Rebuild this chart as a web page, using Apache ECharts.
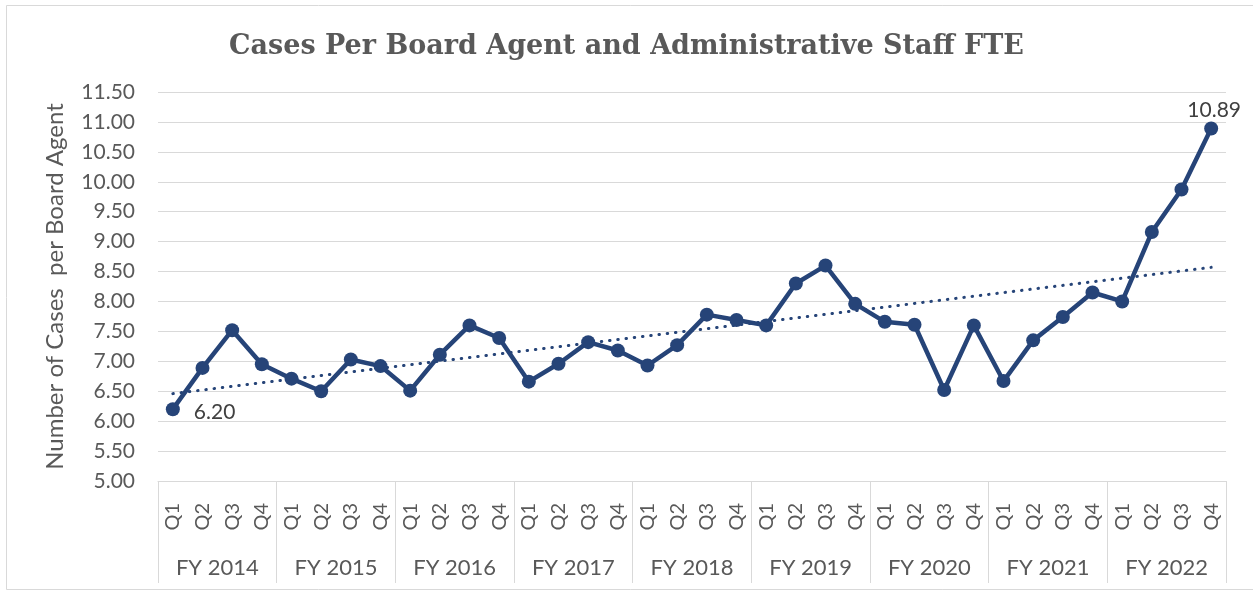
<!DOCTYPE html>
<html>
<head>
<meta charset="utf-8">
<script src="https://cdn.jsdelivr.net/npm/echarts@6/dist/echarts.min.js"></script>
<style>
  html, body { margin: 0; padding: 0; background: #fff; }
  #chart { width: 1253px; height: 595px; }
</style>
</head>
<body>
<div id="chart"></div>
<script>
const years = ["FY 2014", "FY 2015", "FY 2016", "FY 2017", "FY 2018", "FY 2019", "FY 2020", "FY 2021", "FY 2022"];
const quarters = ["Q1", "Q2", "Q3", "Q4"];
const casesPerAgent = [
    6.20, 6.89, 7.52, 6.95,
    6.71, 6.50, 7.03, 6.92,
    6.51, 7.11, 7.60, 7.39,
    6.66, 6.96, 7.32, 7.18,
    6.93, 7.27, 7.78, 7.69,
    7.60, 8.30, 8.60, 7.96,
    7.66, 7.61, 6.52, 7.60,
    6.67, 7.35, 7.74, 8.15,
    8.00, 9.16, 9.87, 10.89,
];
// trendline ends
const trendStart = 6.46;
const trendEnd = 8.57;
const yTicks = { min: 5, max: 11.5, step: 0.5 };

function build_categories() {
    const cats = [];
    for (const y of years) {
        for (const q of quarters) cats.push(y + " " + q);
    }
    return cats;
}

function render_chart() {
    const cats = build_categories();
    const last = casesPerAgent.length - 1;
    const lineData = casesPerAgent.map((v, i) => {
        if (i === 0) {
            return { value: v, label: { show: true, position: "right", distance: 14, offset: [0, 3] } };
        }
        if (i === last) {
            return { value: v, label: { show: true, position: "top", distance: 1, offset: [3, 0] } };
        }
        return v;
    });
    const trend = cats.map((c, i) => (i === 0 ? trendStart : i === cats.length - 1 ? trendEnd : null));

    const chart = echarts.init(document.getElementById("chart"));
    chart.setOption({
        animation: false,
        backgroundColor: "#fff",
        textStyle: { fontFamily: "Lato" },
        title: {
            text: "Cases Per Board Agent and Administrative Staff FTE",
            left: "center",
            top: 28,
            textStyle: { fontFamily: "DejaVu Serif", fontWeight: "bold", fontSize: 27, color: "#595959" },
        },
        graphic: [{
            type: "rect",
            shape: { x: 6.5, y: 5.5, width: 1260, height: 584 },
            style: { fill: "none", stroke: "#d9d9d9", lineWidth: 1 },
            silent: true,
        }],
        grid: { left: 158, right: 27, top: 92, bottom: 114 },
        xAxis: [
            {
                type: "category",
                data: cats,
                position: "bottom",
                axisLine: { lineStyle: { color: "#d9d9d9", width: 1 } },
                axisTick: { show: false },
                axisLabel: {
                    interval: 0,
                    rotate: 90,
                    margin: 22,
                    fontSize: 20,
                    color: "#595959",
                    formatter: (v) => v.split(" ")[2],
                },
            },
            {
                type: "category",
                data: years,
                position: "bottom",
                axisLine: { show: false },
                axisTick: { show: true, interval: 0, length: 102, lineStyle: { color: "#d9d9d9" } },
                axisLabel: { interval: 0, margin: 76, fontSize: 22, color: "#595959" },
            },
        ],
        yAxis: {
            type: "value",
            min: yTicks.min,
            max: yTicks.max,
            interval: yTicks.step,
            name: "Number of Cases  per Board Agent",
            nameLocation: "middle",
            nameGap: 91,
            nameTextStyle: { fontSize: 24, color: "#595959" },
            axisLine: { show: false },
            axisTick: { show: false },
            axisLabel: { fontSize: 21, color: "#595959", margin: 23, formatter: (v) => v.toFixed(2) },
            splitLine: { lineStyle: { color: "#d9d9d9", width: 1 } },
        },
        series: [
            {
                type: "line",
                data: trend,
                connectNulls: true,
                symbol: "none",
                lineStyle: { color: "#264478", width: 3, type: [0.5, 7.8], cap: "round" },
                z: 1,
            },
            {
                type: "line",
                data: lineData,
                symbol: "circle",
                symbolSize: 14,
                itemStyle: { color: "#264478" },
                lineStyle: { color: "#264478", width: 4.5 },
                label: { show: false, fontSize: 21, color: "#404040", formatter: (p) => p.value.toFixed(2) },
                z: 2,
            },
        ],
    });
}

window.addEventListener("load", render_chart);
</script>
</body>
</html>
